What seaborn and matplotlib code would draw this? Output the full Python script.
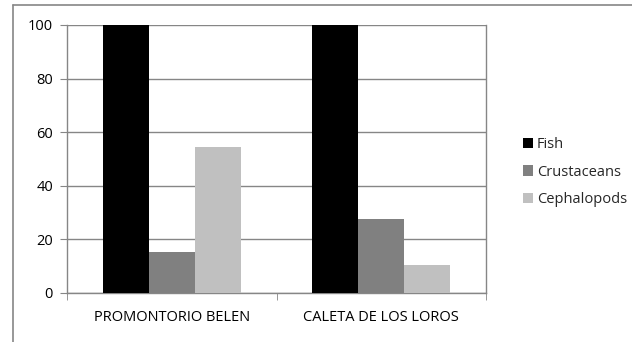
import matplotlib
matplotlib.use("Agg")
import matplotlib.pyplot as plt
import seaborn as sns
import pandas as pd
from matplotlib.lines import Line2D

# data
sites = ["PROMONTORIO BELEN", "CALETA DE LOS LOROS"]
prey = ["Fish", "Crustaceans", "Cephalopods"]
fish = [100, 100]
crustaceans = [15.3, 27.6]
cephalopods = [54.6, 10.4]
colors = ["#000000", "#808080", "#c0c0c0"]

rows = []
for i, site in enumerate(sites):
    for name, vals in zip(prey, [fish, crustaceans, cephalopods]):
        rows.append({"site": site, "prey": name, "value": vals[i]})
df = pd.DataFrame(rows)

sns.set_style("white")
plt.rcParams["font.family"] = ["Open Sans", "DejaVu Sans"]

fig = plt.figure(figsize=(6.32, 3.42), dpi=100)
ax = fig.add_axes([67 / 632, 1 - 293 / 342, (486 - 67) / 632, (293 - 25) / 342])

sns.barplot(data=df, x="site", y="value", hue="prey", hue_order=prey,
            palette=colors, width=0.66, gap=0, saturation=1, linewidth=0,
            ax=ax, zorder=3)

ax.set_ylim(0, 100)
ax.set_xlim(-0.5, 1.5)
ax.set_yticks(range(0, 101, 20))
ax.yaxis.grid(True, color="#868686", linewidth=1, zorder=0)
ax.set_axisbelow(True)
ax.set_xlabel("")
ax.set_ylabel("")
for s in ["left", "bottom", "right"]:
    ax.spines[s].set_visible(True)
    ax.spines[s].set_color("#868686")
    ax.spines[s].set_linewidth(1)
ax.spines["top"].set_visible(False)

fs = 10.5
ax.set_xticks([-0.5, 0.5, 1.5], minor=True)
ax.tick_params(axis="x", which="minor", length=5, color="#868686", direction="out", bottom=True)
ax.tick_params(axis="x", which="major", length=0, pad=12, labelsize=fs, labelcolor="#000000")
ax.tick_params(axis="y", length=5, color="#868686", direction="out", left=True, pad=5,
               labelsize=fs, labelcolor="#000000")

handles, labels = ax.get_legend_handles_labels()
ax.legend(handles, labels, loc="center left", bbox_to_anchor=(510 / 632, 1 - 172 / 342),
          bbox_transform=fig.transFigure, frameon=False, fontsize=fs,
          handlelength=0.7, handleheight=0.7, handletextpad=0.25, labelspacing=0.85)

# outer chart border (left and top edges only are in view)
x0, y0 = 12.5 / 632, 1 - 4.5 / 342
fig.add_artist(Line2D([x0, x0], [0, y0], transform=fig.transFigure, color="#868686", lw=1.2))
fig.add_artist(Line2D([x0, 1], [y0, y0], transform=fig.transFigure, color="#868686", lw=1.2))

fig.savefig("out.png", dpi=100)
